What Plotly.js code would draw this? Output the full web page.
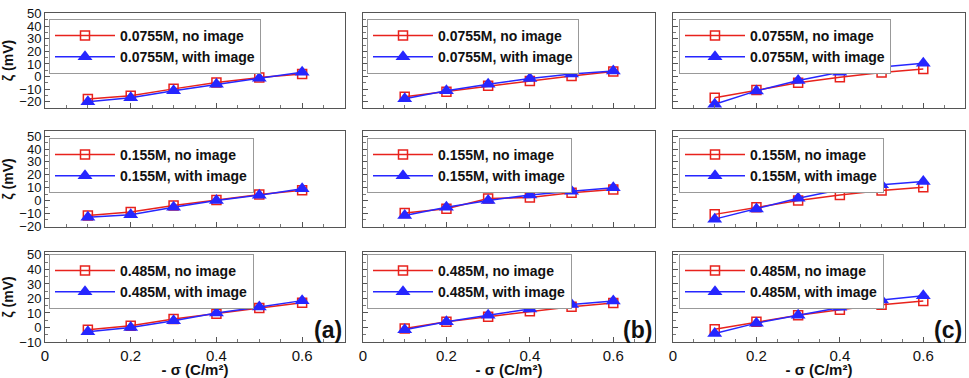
<!DOCTYPE html>
<html>
<head>
<meta charset="utf-8">
<script src="https://cdn.plot.ly/plotly-3.0.1.min.js"></script>
<style>
    html, body { margin: 0; padding: 0; background: white; }
    #chart { width: 969px; height: 378px; }
</style>
</head>
<body>
<div id="chart"></div>
<script>
// Surface charge (x axis), same for every panel
const sigma = [0.1, 0.2, 0.3, 0.4, 0.5, 0.6];

// Concentrations, one per row
const concentrations = ['0.0755M', '0.155M', '0.485M'];
const panelLabels = ['(a)', '(b)', '(c)'];

// Row 1: 0.0755M
const a1NoImage = [-17.8, -15.2, -9.8, -4.8, -0.8, 2.1];
const a1WithImage = [-20, -16.8, -11.2, -6.1, -1.3, 3.5];
const b1NoImage = [-16, -12, -7.4, -3.5, 0.5, 4];
const b1WithImage = [-17.6, -11.2, -6.1, -1.6, 2.1, 4.5];
const c1NoImage = [-16.8, -10.6, -5, -0.5, 3.2, 5.9];
const c1WithImage = [-22, -11.4, -3.2, 3.5, 7.5, 10.6];

// Row 2: 0.155M
const a2NoImage = [-11.5, -8.9, -3.9, 0.5, 4.7, 8.1];
const a2WithImage = [-13, -11, -5.2, 0, 4.2, 9.1];
const b2NoImage = [-9.7, -6.3, 1.6, 2.3, 6, 8.6];
const b2WithImage = [-11.5, -5.2, 0, 4.4, 7.3, 9.9];
const c2NoImage = [-10.7, -5.2, 0, 4.4, 7.8, 10.4];
const c2WithImage = [-14.4, -6.5, 1.8, 8.4, 12.3, 14.9];

// Row 3: 0.485M
const a3NoImage = [-1.6, 1.2, 5.8, 9.5, 13.4, 17.1];
const a3WithImage = [-3, 0, 4.6, 10, 14.1, 18.5];
const b3NoImage = [-0.7, 3.9, 7.4, 11.1, 14.3, 16.9];
const b3WithImage = [-1.6, 3.9, 8.5, 12.7, 15.9, 18.2];
const c3NoImage = [-1.2, 3.9, 8.5, 12.2, 15.7, 18.2];
const c3WithImage = [-4.2, 3, 8.5, 13.9, 18.9, 21.9];

// Tick labels
const xTickVals = [0, 0.2, 0.4, 0.6];
const xTickText = ['0', '0.2', '0.4', '0.6'];

const noImageRows = [
    [a1NoImage, b1NoImage, c1NoImage],
    [a2NoImage, b2NoImage, c2NoImage],
    [a3NoImage, b3NoImage, c3NoImage]
];
const withImageRows = [
    [a1WithImage, b1WithImage, c1WithImage],
    [a2WithImage, b2WithImage, c2WithImage],
    [a3WithImage, b3WithImage, c3WithImage]
];

const W = 969, H = 378;
const FONT = 'Liberation Sans, Arial, sans-serif';
const RED = '#e8221c';
const BLUE = '#2626ff';

// Panel placement in pixels
const colLeft = [45, 363, 673];
const colRight = [345, 655, 965];
const rowTop = [13, 131, 252];
const rowBottom = [108, 227, 342];
const yRanges = [[-25, 50.5], [-20.5, 54], [-10, 52]];
const legendTop = [19, 138, 254];
const legendLeft = [49, 367, 679];

const traces = [];
const layout = {
    width: W,
    height: H,
    margin: { l: 0, r: 0, t: 0, b: 0 },
    paper_bgcolor: 'white',
    plot_bgcolor: 'white',
    font: { family: FONT, size: 14, color: '#111' },
    showlegend: true,
    annotations: []
};

for (let r = 0; r < 3; r++) {
    for (let c = 0; c < 3; c++) {
        const n = r * 3 + c + 1;
        const sfx = n === 1 ? '' : String(n);
        const legendId = 'legend' + sfx;

        traces.push({
            x: sigma,
            y: noImageRows[r][c],
            xaxis: 'x' + sfx,
            yaxis: 'y' + sfx,
            legend: legendId,
            name: concentrations[r] + ', no image',
            type: 'scatter',
            mode: 'lines+markers',
            line: { color: RED, width: 1.5 },
            marker: { symbol: 'square-open', size: 9, color: RED, line: { width: 1.5, color: RED } },
            cliponaxis: false
        });
        traces.push({
            x: sigma,
            y: withImageRows[r][c],
            xaxis: 'x' + sfx,
            yaxis: 'y' + sfx,
            legend: legendId,
            name: concentrations[r] + ', with image',
            type: 'scatter',
            mode: 'lines+markers',
            line: { color: BLUE, width: 1.5 },
            marker: { symbol: 'triangle-up', size: 13, color: BLUE },
            cliponaxis: false
        });

        const xaxis = {
            domain: [colLeft[c] / W, colRight[c] / W],
            anchor: 'y' + sfx,
            range: [0, 0.7],
            tickmode: 'array',
            tickvals: xTickVals,
            ticktext: xTickText,
            showticklabels: r === 2,
            ticks: 'inside',
            ticklen: 5,
            tickcolor: '#555',
            minor: { dtick: 0.05, ticks: 'inside', ticklen: 3, tickcolor: '#777' },
            showgrid: false,
            zeroline: false,
            showline: true,
            linecolor: '#555',
            linewidth: 1,
            mirror: true,
            tickfont: { family: FONT, size: 15, color: '#111' }
        };
        // x title only under the bottom row
        if (r === 2) {
            xaxis.title = {
                text: '- σ (C/m²)',
                font: { family: FONT, size: 15, color: '#111', weight: 'bold' },
                standoff: 7
            };
        }
        layout['xaxis' + sfx] = xaxis;

        const yaxis = {
            domain: [1 - rowBottom[r] / H, 1 - rowTop[r] / H],
            anchor: 'x' + sfx,
            range: yRanges[r],
            dtick: 10,
            tick0: 0,
            showticklabels: c === 0,
            ticks: 'inside',
            ticklen: 5,
            tickcolor: '#555',
            minor: { dtick: 5, ticks: 'inside', ticklen: 3, tickcolor: '#777' },
            showgrid: false,
            zeroline: false,
            showline: true,
            linecolor: '#555',
            linewidth: 1,
            mirror: true,
            tickfont: { family: FONT, size: 13, color: '#111' }
        };
        // y title only on the left column
        if (c === 0) {
            yaxis.title = {
                text: 'ζ (mV)',
                font: { family: FONT, size: 14, color: '#111', weight: 'bold' },
                standoff: 5
            };
        }
        layout['yaxis' + sfx] = yaxis;

        // Legend box in the top-left corner of each panel
        layout[legendId] = {
            x: legendLeft[c] / W,
            y: 1 - legendTop[r] / H,
            xanchor: 'left',
            yanchor: 'top',
            xref: 'paper',
            yref: 'paper',
            bgcolor: 'white',
            bordercolor: '#999',
            borderwidth: 1,
            itemwidth: 60,
            tracegroupgap: 0,
            font: { family: FONT, size: 14, color: '#111', weight: 'bold' }
        };
    }
}

// (a), (b), (c) panel labels in the bottom row
for (let c = 0; c < 3; c++) {
    layout.annotations.push({
        text: panelLabels[c],
        xref: 'paper',
        yref: 'paper',
        x: (colRight[c] - 1) / W,
        y: 1 - 330 / H,
        xanchor: 'right',
        yanchor: 'middle',
        showarrow: false,
        font: { family: FONT, size: 23, color: '#111', weight: 'bold' }
    });
}

Plotly.newPlot('chart', traces, layout, { displayModeBar: false, staticPlot: true });
</script>
</body>
</html>
